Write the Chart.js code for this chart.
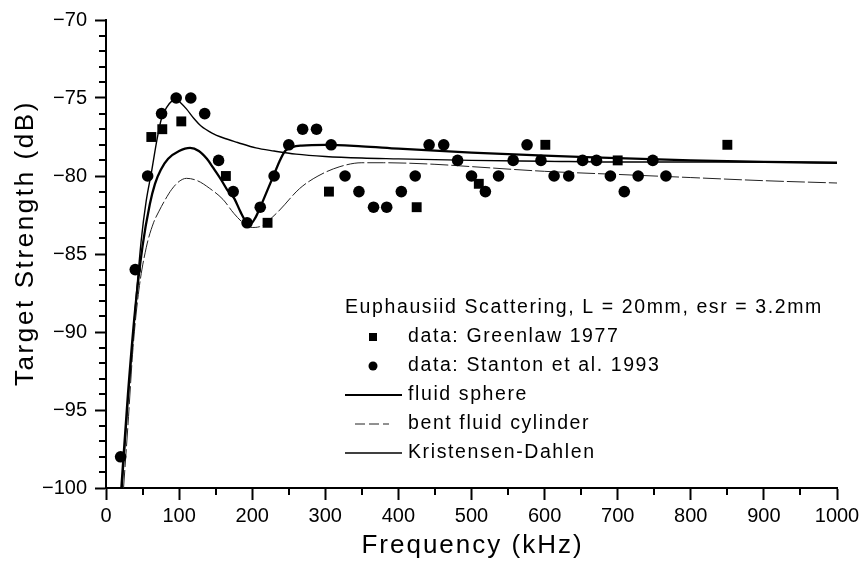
<!DOCTYPE html>
<html>
<head>
<meta charset="utf-8">
<script src="https://cdn.jsdelivr.net/npm/chart.js@4/dist/chart.umd.min.js"></script>
<style>
  html, body { margin: 0; padding: 0; background: #fff; }
  canvas { display: block; }
</style>
</head>
<body>
<canvas id="chart" width="864" height="563"></canvas>
<script>
// Measured target strength of krill (Euphausiids)
const greenlawFreq = [62, 77, 103, 164, 221, 305, 425, 510, 601, 700, 850];
const greenlawTS   = [-77.5, -77, -76.5, -80, -83, -81, -82, -80.5, -78, -79, -78];

const stantonFreq = [20, 40, 57, 76, 96, 116, 135, 154, 174, 193, 211, 230, 250, 269, 288, 308,
                     327, 346, 366, 384, 404, 423, 442, 462, 481, 500, 519, 537, 557, 576, 595,
                     613, 633, 652, 671, 690, 709, 728, 748, 766];
const stantonTS   = [-98, -86, -80, -76, -75, -75, -76, -79, -81, -83, -82, -80, -78, -77, -77, -78,
                     -80, -81, -82, -82, -81, -80, -78, -78, -79, -80, -81, -80, -79, -78, -79,
                     -80, -80, -79, -79, -80, -81, -80, -79, -80];

// Model predictions
const sphereFreq = [21, 30, 40, 50, 60, 67, 75, 85, 100, 115, 127, 138, 147, 157, 166, 175, 184, 192,
                    198, 204, 211, 220, 229, 237, 245, 255, 268, 300, 350, 400, 500, 600, 700, 800, 900, 1000];
const sphereTS   = [-100, -94, -88.5, -84.5, -81.8, -80.5, -79.6, -78.9, -78.4, -78.2, -78.4, -78.9, -79.5,
                    -80.2, -80.9, -81.4, -82.3, -82.95, -83.05, -82.7, -82.0, -81.0, -80.0, -79.1, -78.4,
                    -78.15, -78.05, -78.0, -78.1, -78.25, -78.5, -78.7, -78.85, -79.0, -79.1, -79.15];

const cylinderFreq = [24, 30, 37, 45, 55, 65, 72, 80, 90, 100, 110, 125, 142, 160, 175, 190, 200, 210,
                      233, 265, 290, 320, 350, 380, 450, 500, 600, 700, 800, 900, 1000];
const cylinderTS   = [-100, -96, -91, -87.3, -84.6, -83, -82.3, -81.6, -80.85, -80.35, -80.15, -80.3,
                      -80.8, -81.5, -82.4, -83.1, -83.3, -83.25, -82.4, -80.8, -80.0, -79.4, -79.15,
                      -79.15, -79.25, -79.4, -79.7, -79.9, -80.1, -80.3, -80.45];

const kdFreq = [22, 30, 40, 48, 55, 62, 70, 76, 83, 90, 96, 102, 110, 120, 130, 145, 160, 180, 205,
                230, 260, 300, 350, 400, 500, 600, 700, 850, 1000];
const kdTS   = [-100, -94.5, -88.5, -84.2, -81.6, -79.8, -77.6, -76.3, -75.6, -75.2, -75.1, -75.3,
                -75.7, -76.3, -76.8, -77.25, -77.55, -77.85, -78.2, -78.4, -78.6, -78.75, -78.85,
                -78.9, -79.0, -79.05, -79.1, -79.1, -79.15];

const legendTitle = 'Euphausiid Scattering, L = 20mm, esr = 3.2mm';
const xTitle = 'Frequency (kHz)';
const yTitle = 'Target Strength (dB)';

const FONT = "'Liberation Sans', Arial, Helvetica, sans-serif";

const pairs = (xs, ys) => xs.map((x, i) => ({ x: x, y: ys[i] }));
const spaced = (ctx, px) => { if ('letterSpacing' in ctx) ctx.letterSpacing = px + 'px'; };

// Minor ticks between the labelled ones
const minorTicks = {
  id: 'minorTicks',
  afterDraw(chart) {
    const { ctx, scales: { x, y } } = chart;
    ctx.save();
    ctx.strokeStyle = '#000';
    ctx.lineWidth = 2;
    ctx.beginPath();
    for (let v = -99; v < -70; v++) {
      if (v % 5 === 0) continue;
      const py = Math.round(y.getPixelForValue(v));
      ctx.moveTo(x.left - 7, py);
      ctx.lineTo(x.left, py);
    }
    for (let v = 50; v < 1000; v += 100) {
      const px = Math.round(x.getPixelForValue(v));
      ctx.moveTo(px, y.bottom);
      ctx.lineTo(px, y.bottom + 7);
    }
    ctx.stroke();
    ctx.restore();
  }
};

// Axis titles, set with a little extra tracking
const axisTitles = {
  id: 'axisTitles',
  afterDraw(chart) {
    const { ctx, scales: { x, y } } = chart;
    ctx.save();
    ctx.fillStyle = '#000';
    ctx.textBaseline = 'alphabetic';
    ctx.textAlign = 'center';
    ctx.font = '26px ' + FONT;
    spaced(ctx, 2);
    ctx.fillText(xTitle, (x.left + x.right) / 2 + 1, 553);
    ctx.translate(33, 243);
    ctx.rotate(-Math.PI / 2);
    spaced(ctx, 2.6);
    ctx.fillText(yTitle, 0, 0);
    ctx.restore();
  }
};

// Legend block drawn inside the plot area
const insetLegend = {
  id: 'insetLegend',
  afterDraw(chart) {
    const ctx = chart.ctx;
    ctx.save();
    ctx.font = '19.5px ' + FONT;
    spaced(ctx, 1.6);
    ctx.fillStyle = '#000';
    ctx.textBaseline = 'middle';
    ctx.textAlign = 'left';
    const top = 308, step = 29;
    ctx.fillText(legendTitle, 345, top);
    chart.data.datasets.forEach((ds, i) => {
      const yy = top + step * (i + 1);
      if (ds.showLine) {
        ctx.save();
        ctx.strokeStyle = ds.borderColor;
        ctx.lineWidth = Math.min(ds.borderWidth, 1.8);
        ctx.setLineDash(ds.borderDash ? [10, 4] : []);
        ctx.beginPath();
        const x0 = ds.borderDash ? 355 : 345, x1 = ds.borderDash ? 389 : 402;
        ctx.moveTo(x0, yy);
        ctx.lineTo(x1, yy);
        ctx.stroke();
        ctx.restore();
      } else {
        ctx.beginPath();
        if (ds.pointStyle === 'rect') {
          ctx.rect(369, yy - 4, 8, 8);
        } else {
          ctx.arc(373, yy, 4.5, 0, Math.PI * 2);
        }
        ctx.fill();
      }
      ctx.fillText(ds.label, 408, yy);
    });
    ctx.restore();
  }
};

new Chart(document.getElementById('chart'), {
  type: 'scatter',
  data: {
    datasets: [
      {
        label: 'data: Greenlaw 1977',
        data: pairs(greenlawFreq, greenlawTS),
        showLine: false,
        pointStyle: 'rect',
        pointRadius: 7,
        backgroundColor: '#000',
        borderColor: '#000',
        borderWidth: 0
      },
      {
        label: 'data: Stanton et al. 1993',
        data: pairs(stantonFreq, stantonTS),
        showLine: false,
        pointStyle: 'circle',
        pointRadius: 5.8,
        backgroundColor: '#000',
        borderColor: '#000',
        borderWidth: 0
      },
      {
        label: 'fluid sphere',
        data: pairs(sphereFreq, sphereTS),
        showLine: true,
        borderColor: '#000',
        borderWidth: 2.3,
        pointRadius: 0,
        cubicInterpolationMode: 'monotone'
      },
      {
        label: 'bent fluid cylinder',
        data: pairs(cylinderFreq, cylinderTS),
        showLine: true,
        borderColor: '#222',
        borderWidth: 1,
        borderDash: [18, 3],
        pointRadius: 0,
        cubicInterpolationMode: 'monotone'
      },
      {
        label: 'Kristensen-Dahlen',
        data: pairs(kdFreq, kdTS),
        showLine: true,
        borderColor: '#000',
        borderWidth: 1.4,
        pointRadius: 0,
        cubicInterpolationMode: 'monotone'
      }
    ]
  },
  options: {
    responsive: false,
    animation: false,
    devicePixelRatio: 1,
    layout: { padding: { top: 16, right: 27, left: 0, bottom: 0 } },
    plugins: { legend: { display: false }, tooltip: { enabled: false } },
    scales: {
      x: {
        type: 'linear',
        min: 0, max: 1000,
        afterFit(scale) { scale.height = 75; },
        border: { display: true, color: '#000', width: 2 },
        grid: { drawOnChartArea: false, drawTicks: true, tickLength: 12, tickWidth: 2, tickColor: '#000' },
        ticks: {
          stepSize: 100, color: '#000', padding: 4, maxRotation: 0,
          font: { family: FONT, size: 20 },
          callback: (v) => String(v)
        },
        title: { display: false }
      },
      y: {
        type: 'linear',
        min: -100, max: -70,
        afterFit(scale) { scale.width = 106; },
        border: { display: true, color: '#000', width: 2 },
        grid: { drawOnChartArea: false, drawTicks: true, tickLength: 11, tickWidth: 2, tickColor: '#000' },
        ticks: {
          stepSize: 5, color: '#000', padding: 8,
          font: { family: FONT, size: 20 },
          callback: (v) => String(v).replace('-', '\u2212')
        },
        title: { display: false }
      }
    }
  },
  plugins: [minorTicks, axisTitles, insetLegend]
});
</script>
</body>
</html>
